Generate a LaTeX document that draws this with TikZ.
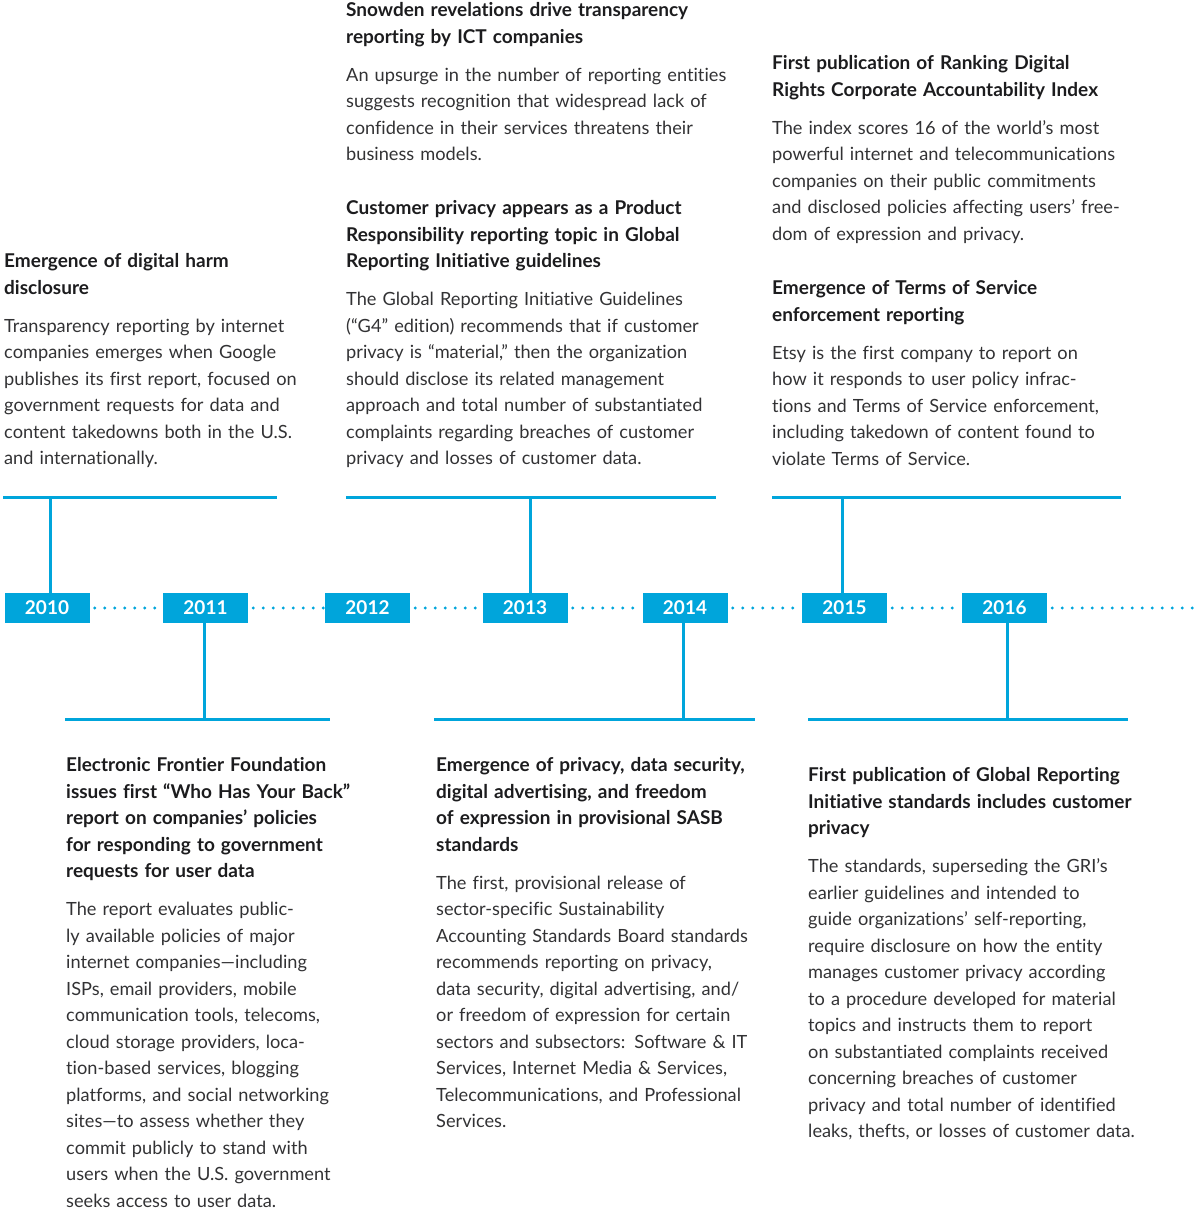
\documentclass[tikz,border=0pt]{standalone}
\usepackage{fontspec}
\setmainfont{Lato}[Ligatures={TeX,NoCommon}]
\usetikzlibrary{positioning}
\definecolor{tlblue}{RGB}{0,165,219}
\definecolor{headink}{RGB}{28,28,30}
\definecolor{bodyink}{RGB}{50,50,52}
\newcommand{\hd}[1]{{\color{headink}\fontsize{19}{26.5}\selectfont\bfseries #1}\\[11.5pt]}
\tikzset{
  yearbox/.style={fill=tlblue,text=white,font=\fontsize{19}{19}\selectfont\bfseries,
    minimum width=85pt,minimum height=30pt,inner sep=0pt},
  event/.style={anchor=base west,inner sep=0pt,text width=420pt,align=left,
    text=bodyink,font=\fontsize{18.2}{26.5}\selectfont},
  bar/.style={tlblue,line width=3pt},
  dots/.style={tlblue,line width=3.2pt,line cap=round,dash pattern=on 0pt off 10pt},
}

\begin{document}
\begin{tikzpicture}[x=1pt,y=-1pt]
\useasboundingbox (0,0) rectangle (1200,1211);

% years on the time line
\foreach \yr/\xx in {2010/47,2011/205.5,2012/367.5,2013/525,2014/685,2015/844.5,2016/1004.5}
  \node[yearbox] (y\yr) at (\xx,608) {\yr};
\coordinate (tlend) at (1200,608);
\foreach \a/\b in {2010/2011,2011/2012,2012/2013,2013/2014,2014/2015,2015/2016}
  \draw[dots] ([xshift=5pt]y\a.east) -- (y\b.west);
\draw[dots] ([xshift=5pt]y2016.east) -- (tlend);

% stems and bars
\coordinate (s2010) at (50,497);
\coordinate (s2013) at (530,497);
\coordinate (s2015) at (842,497);
\coordinate (s2011) at (204,719);
\coordinate (s2014) at (683,719);
\coordinate (s2016) at (1007,719);
\draw[bar] (3,497) -- (277,497);
\draw[bar] (346,497) -- (716,497);
\draw[bar] (772,497) -- (1121,497);
\draw[bar] (65,719) -- (330,719);
\draw[bar] (434,719) -- (755,719);
\draw[bar] (808,719) -- (1128,719);
\foreach \yr in {2010,2013,2015}
  \draw[bar] (y\yr.north -| s\yr) -- (s\yr);
\foreach \yr in {2011,2014,2016}
  \draw[bar] (y\yr.south -| s\yr) -- (s\yr);

% events above the line
\node[event] (ev2010) at (4,267.5) {\hd{Emergence of digital harm\\disclosure}
Transparency reporting by internet\\companies emerges when Google\\publishes its first report, focused on\\government requests for data and\\content takedowns both in the U.S.\\and internationally.};
\node[event] (ev2013a) at (346,16.5) {\hd{Snowden revelations drive transparency\\reporting by ICT companies}
An upsurge in the number of reporting entities\\suggests recognition that widespread lack of\\confidence in their services threatens their\\business models.};
\node[event] (ev2013b) at (346,214.5) {\hd{Customer privacy appears as a Product\\Responsibility reporting topic in Global\\Reporting Initiative guidelines}
The Global Reporting Initiative Guidelines\\(“G4” edition) recommends that if customer\\privacy is “material,” then the organization\\should disclose its related management\\approach and total number of substantiated\\complaints regarding breaches of customer\\privacy and losses of customer data.};
\node[event] (ev2015a) at (772,69.5) {\hd{First publication of Ranking Digital\\Rights Corporate Accountability Index}
The index scores 16 of the world’s most\\powerful internet and telecommunications\\companies on their public commitments\\and disclosed policies affecting users’ free-\\dom of expression and privacy.};
\node[event] (ev2015b) at (772,294.5) {\hd{Emergence of Terms of Service\\enforcement reporting}
Etsy is the first company to report on\\how it responds to user policy infrac-\\tions and Terms of Service enforcement,\\including takedown of content found to\\violate Terms of Service.};

% events below the line
\node[event] (ev2011) at (66,771.5) {\hd{Electronic Frontier Foundation\\issues first “Who Has Your Back”\\report on companies’ policies\\for responding to government\\requests for user data}
The report evaluates public-\\ly available policies of major\\internet companies—including\\ISPs, email providers, mobile\\communication tools, telecoms,\\cloud storage providers, loca-\\tion-based services, blogging\\platforms, and social networking\\sites—to assess whether they\\commit publicly to stand with\\users when the U.S. government\\seeks access to user data.};
\node[event] (ev2014) at (436,771.5) {\hd{Emergence of privacy, data security,\\digital advertising, and freedom\\of expression in provisional SASB\\standards}
The first, provisional release of\\sector-specific Sustainability\\Accounting Standards Board standards\\recommends reporting on privacy,\\data security, digital advertising, and/\\or freedom of expression for certain\\sectors and subsectors: Software \& IT\\Services, Internet Media \& Services,\\Telecommunications, and Professional\\Services.};
\node[event] (ev2016) at (808,781.5) {\hd{First publication of Global Reporting\\Initiative standards includes customer\\privacy}
The standards, superseding the GRI’s\\earlier guidelines and intended to\\guide organizations’ self-reporting,\\require disclosure on how the entity\\manages customer privacy according\\to a procedure developed for material\\topics and instructs them to report\\on substantiated complaints received\\concerning breaches of customer\\privacy and total number of identified\\leaks, thefts, or losses of customer data.};
\end{tikzpicture}
\end{document}
